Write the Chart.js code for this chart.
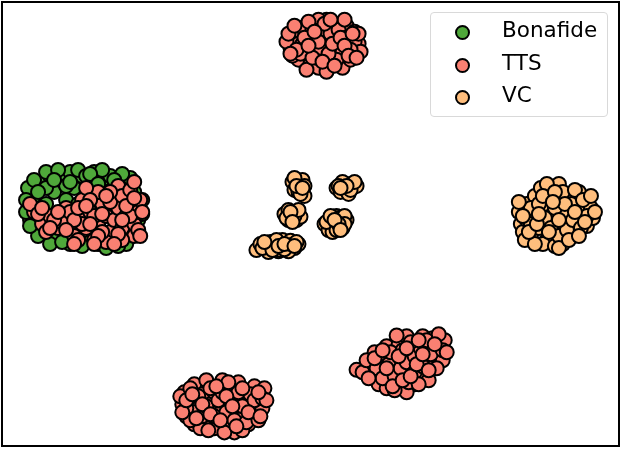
<!DOCTYPE html>
<html>
<head>
<meta charset="utf-8">
<script src="https://cdn.jsdelivr.net/npm/chart.js@4/dist/chart.umd.min.js"></script>
<style>
  html, body { margin: 0; padding: 0; background: #fff; }
  #wrap { position: relative; width: 622px; height: 450px; }
  #legend {
    position: absolute; left: 430px; top: 12px; width: 176px; height: 103px;
    border: 1px solid #d9d9d9; border-radius: 4px; background: rgba(255,255,255,0.8);
    font-family: "DejaVu Sans", sans-serif; font-size: 21.5px; color: #000;
  }
  .item { position: absolute; left: 0; height: 24px; line-height: 24px; }
  .dot {
    position: absolute; left: 24px; top: 4px; width: 11px; height: 11px;
    border: 2px solid #000; border-radius: 50%;
  }
  .lbl { position: absolute; left: 71px; top: -3px; white-space: nowrap; }
</style>
</head>
<body>
<div id="wrap">
  <canvas id="myChart"></canvas>
  <div id="legend"></div>
</div>
<script>
// t-SNE embedding, 2 dims
var bonafide = [
  [-70,4],[-69,7],[-68,1],[-67,10],[-66,5],[-65,12],[-64,8],[-63,-2],[-62,11],[-61,6],
  [-60,13],[-59,9],[-58,-4],[-57,12],[-56,7],[-55,10],[-54,13],[-53,-5],[-52,11],[-51,8],
  [-50,12],[-49,-3],[-48,10],[-47,6],[-46,9],[-44,4],[-43,1],[-67,-1],[-64,-3],[-60,-5],
  [-55,-4.5],[-62,3],[-58,5],[-53,4],[-50,3],[-70.5,9],[-45,11.5],
  [-71,6],[-70,1],[-69,11],[-66,13],[-63,13.5],[-61,9.5],[-58,13.5],[-56,12],[-52,13.5],
  [-47,12.5],[-44,8],[-42,6],[-42,2.5],[-68,-3],[-65,-5],[-57,-5.5],[-51,-6],[-46,-5],[-71,3],
  [-66,9],[-64,11],[-60,10.5],[-55,12.5],[-49,11],[-53,10],[-68,8],[-62,-4.5],[-48,-5.5],[-70,-0.5]
];
var tts = [
  // top cluster
  [-5,44],[-4,47],[-3,41],[-2,49],[-1,43],[0,46],[0,40],[1,50],[1,44],[2,47],
  [2,39],[3,42],[3,48],[4,45],[4,51],[5,40],[5,43],[6,47],[6,50],[7,42],
  [7,45],[8,39],[8,48],[9,44],[10,46],[10,41],[11,43],[12,45],[-3,45],[-1,38.5],
  [2,51],[9,49.5],[11,48],[4,38],[6,44],[-4.5,42],[0.5,48.5],[8,43],
  [-6,45.5],[-5.5,47.5],[-2,45],[0,43],[1.5,41.5],[3,45],[5,47.5],[7,48.5],[9,46.5],[11,45.5],
  [12.5,43],[10,43.5],[-2.5,42.5],[3.5,50],[6.5,41],[1,46],[-0.5,50.5],[8.5,51],[5,51],[12,47.5],
  [-4,49.5],[2.5,44],
  [-3.5,43.5],[-1.5,46.5],[0.5,41.5],[2,45.5],[4.5,42.5],[5.5,45],[7.5,46.5],[8.5,44.5],[10.5,47.5],[9.5,42],
  [3,40.5],[-0.5,44.5],[6,39.5],[11.5,41.5],[-5,42.5],[1,48],
  // left, mixed with bonafide
  [-69,3],[-67,0],[-65,2],[-63,-1],[-61,4],[-60,0],[-59,-3],[-58,2],[-57,6],[-56,-1],
  [-55,3],[-54,-4],[-53,0],[-52,5],[-51,2],[-50,-2],[-49,7],[-49,1],[-48,4],[-47,-1],
  [-46,8],[-46,2],[-45,5],[-44,-3],[-44,0],[-43,3],[-42.5,6],[-53,8],[-56,9],[-51,-4.5],
  [-47,-4],[-58,-4],[-62,0.5],[-48,9.5],[-55,6],
  [-70,5],[-68,2.5],[-66,-2],[-64,1],[-60,3],[-57,0],[-54,2],[-52,-2],[-50,5.5],[-48,-2.5],
  [-45,2],[-43,-1.5],[-42,3],[-47,7],[-53,-3],[-59,1],[-45,8.5],[-50,8],[-42.5,-3],[-44,10.5],
  [-67,4],[-65,-1],[-61,-1.5],[-58,4],[-55,0],[-52,2.5],[-49,-5],[-46,4.5],[-44,6.5],[-51,7],
  [-56,4.5],[-63,3],[-47,1],[-54,-5],[-59,-5],
  // bottom right
  [11.5,-36.4],[15,-35],[15.5,-38],[16,-32],[17,-40],[18,-34],[18.5,-37],[19,-30.5],[20,-39],[20.5,-33],
  [21,-36],[22,-30],[22,-41],[23,-34],[23.5,-38],[24,-28],[25,-32],[25,-36],[26,-40],[26.5,-30],
  [27,-34],[28,-28],[28.5,-37],[29,-31],[30,-35],[30.5,-28.5],[31,-32.5],[32,-30],[33,-34],[33.5,-29],
  [19,-41],[24,-42],[29.5,-39],[17,-35.5],[21.5,-27.8],
  [13,-37],[14,-34],[16.5,-36],[18,-38.5],[19.5,-35],[20,-32],[21,-38],[22.5,-36],[24,-34.5],[24.5,-39.5],
  [26,-37],[26,-33],[27.5,-31],[28,-35.5],[29,-29],[30,-32.5],[31.5,-36],[32,-27.5],[25,-29.5],[23,-31.5],
  [27,-40],[21,-41.5],[33,-31.5],[34,-32],
  [14.5,-38.5],[16,-33.5],[18,-31.5],[19,-36],[20.5,-40.5],[22,-33],[23,-39],[25,-38],[26.5,-35],[28,-32.5],
  [29.5,-36.5],[31,-30],[27,-29],[24,-31],
  // bottom
  [-32,-45],[-31.5,-42],[-31,-48],[-30,-44],[-29,-40],[-29,-50],[-28,-46],[-27,-42.5],[-26.5,-49],[-26,-39],
  [-25,-45],[-24,-51],[-24,-42],[-23,-47.5],[-22,-39],[-22,-44],[-21,-50],[-20,-41.5],[-20,-46.5],[-19,-52],
  [-18,-39.5],[-18,-44],[-17,-48.5],[-16,-42],[-15.5,-50],[-15,-45],[-14,-40.5],[-13.5,-47],[-12.5,-43.5],[-12,-46],
  [-11.5,-41],[-27.5,-51],[-21.5,-52],[-17,-51.5],[-29,-47],
  [-32.5,-43],[-31,-46],[-30,-41],[-30,-49],[-28,-43],[-27,-48],[-26,-45.5],[-25,-41],[-24,-48],[-23,-44],
  [-22,-42],[-21,-47],[-20,-44],[-19,-49],[-18,-42],[-17,-45.5],[-16,-49.5],[-15,-42.5],[-14,-44],[-13,-49],
  [-12,-43.5],[-25.5,-51.5],[-20.5,-39.5],[-11,-44],[-32,-47],
  [-31,-44],[-29.5,-42.5],[-28.5,-48.5],[-27,-45],[-25,-47.5],[-23.5,-40.5],[-22.5,-49],[-21,-43],[-19.5,-45.5],[-18.5,-50.5],
  [-17,-41],[-15.5,-47],[-13,-42],[-12.5,-48]
];
var vc = [
  // small groups in the middle
  [-4.5,10.5],[-3.5,11],[-2.5,10],[-3,9],[-2,8],[-1.5,7],[-4,8.5],[-2,11],[-1.5,9.5],
  [-4,11.5],[-3,8],[-2.5,7.5],[-3.5,9.5],[-2,9],
  [6.5,9],[7.5,8],[8.5,9.5],[9,8.5],[10,10],[10.5,9],[11.5,9.5],[8,10.5],[9.5,7.5],
  [7,9.5],[10,8.5],[11,10.5],[9,9.5],[7.5,9],
  [-6.5,2.5],[-5.5,3.5],[-5,2],[-4.5,1.5],[-4,3],[-3,2.5],[-3.5,1],[-2.5,1.8],[-5.5,1],
  [-6,1.5],[-4,2],[-3,3.5],[-5,3],[-4.5,0.5],
  [3.5,0],[4.5,-1.5],[5,1],[6,-0.5],[6.5,2],[7.5,0.5],[8,-1],[9,1],[5.5,-2],[7,1.5],[8.5,2],
  [4,0.5],[6.5,-1.5],[8.5,0],[5,2],[7,0],[6,1],[7.5,-1.5],
  [-13.5,-6.5],[-12.5,-5],[-11,-6],[-10,-4.5],[-9,-5.5],[-8,-6.8],[-7,-4],[-6,-5.5],[-5,-4.2],[-4,-6],
  [-3,-5],[-7.5,-6.5],[-10.5,-7],[-5.5,-6.8],
  [-12,-6],[-9.5,-6.5],[-8.5,-4],[-6.5,-6.3],[-4.5,-5.2],[-3.5,-4.5],
  [-11.5,-4.5],[-8,-5.5],[-6.5,-5],[-4,-5.5],
  // right cluster
  [52,3],[52.5,0],[53,-2],[54,5],[54,1],[55,-3],[56,7],[56,2],[57,-1],[57.5,9],
  [58,4],[59,0],[59,-4],[60,8],[60,2],[61,-2],[62,10],[62,5],[63,0],[63,-5],
  [64,7],[64,3],[65,-1],[66,5],[67,1],[67,8],[68,3],[69,-0.5],[70,4],[70.5,1.5],
  [58,-5],[61,-5.5],[55,4],[66,-2],
  [52,5.5],[53.5,-4],[55,0],[56,-5],[57,5],[58.5,1.5],[59,10],[60,-1],[61,4],[62,-3],
  [63,8],[64,-1.5],[65,5],[65.5,1],[66,8.5],[67.5,-1],[68,6],[69,2],[70,7],[71,3],[62,-6],
  [53,2],[54.5,-2],[56.5,0],[58,7],[59.5,-2],[61,8],[62,1],[63.5,5],[64.5,-4],[66,3],
  [67,-3],[68.5,0.5],[57,2.5],[60.5,5.5]
];

var names = ['Bonafide', 'TTS', 'VC'];
var colors = ['#4fa83a', '#fa8072', '#ffbe7d'];
var series = [bonafide, tts, vc];

function toPoints(arr) {
  return arr.map(function(p) { return {x: p[0], y: p[1]}; });
}

var datasets = series.map(function(s, i) {
  return {
    label: names[i],
    data: toPoints(s),
    backgroundColor: colors[i],
    borderColor: '#000',
    borderWidth: 2,
    pointRadius: 7,
    pointHoverRadius: 7,
    order: 3 - i  // later groups on top
  };
});

// frame round the plot area
var frame = {
  id: 'frame',
  afterDraw: function(chart) {
    var a = chart.chartArea, ctx = chart.ctx;
    ctx.save();
    ctx.strokeStyle = '#000';
    ctx.lineWidth = 2;
    ctx.strokeRect(a.left, a.top, a.right - a.left, a.bottom - a.top);
    ctx.restore();
  }
};

new Chart(document.getElementById('myChart').getContext('2d'), {
  type: 'scatter',
  data: { datasets: datasets },
  options: {
    responsive: true,
    maintainAspectRatio: false,
    animation: false,
    layout: { autoPadding: false, padding: { left: 2, right: 3, top: 2, bottom: 4 } },
    scales: {
      x: { display: false, min: -77, max: 77 },
      y: { display: false, min: -55.4, max: 55.4 }
    },
    plugins: {
      legend: { display: false },
      tooltip: { enabled: false }
    }
  },
  plugins: [frame]
});

var legendEl = document.getElementById('legend');
names.forEach(function(n, i) {
  legendEl.insertAdjacentHTML('beforeend',
    '<div class="item" style="top:' + (8 + i * 32.5) + 'px">' +
    '<span class="dot" style="background:' + colors[i] + '"></span>' +
    '<span class="lbl">' + n + '</span></div>');
});
</script>
</body>
</html>
